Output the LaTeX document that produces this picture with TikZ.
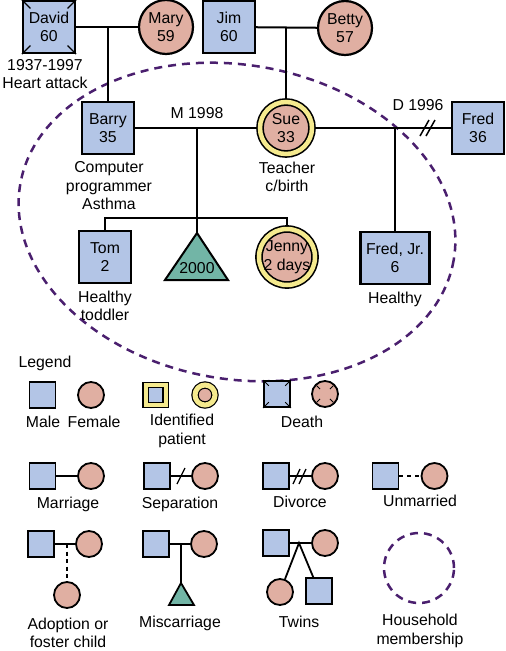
\documentclass[tikz,border=0pt]{standalone}
\usepackage{fontspec}
\setmainfont{Liberation Sans}
\usetikzlibrary{calc}
\definecolor{maleblue}{HTML}{B3C5E6}
\definecolor{femalepink}{HTML}{E0AFA2}
\definecolor{lossteal}{HTML}{72B5A6}
\definecolor{ringyellow}{HTML}{F5EA8E}
\definecolor{homepurple}{HTML}{4A1F6E}
\tikzset{
  male/.style={draw, line width=2.2pt, fill=maleblue, minimum size=52pt, inner sep=0pt, align=center},
  female/.style={draw, circle, line width=2.2pt, fill=femalepink, minimum size=54pt, inner sep=-6pt, align=center},
  patient/.style={female, double=ringyellow, double distance=4.5pt, line width=1.6pt, minimum size=52pt, outer sep=3.9pt},
  lmale/.style={male, minimum size=26pt, line width=1.8pt},
  lfemale/.style={female, minimum size=26pt, line width=1.8pt},
  link/.style={line width=2pt},
  household/.style={homepurple, line width=2.5pt, dash pattern=on 8pt off 6pt},
  txt/.style={align=center, inner sep=0pt},
}

\begin{document}
\begin{tikzpicture}[x=1pt, y=-1pt, font=\fontsize{15.8}{18.5}\selectfont]
  \useasboundingbox (0,0) rectangle (506,651);
  % Household
  \draw[household, rotate around={-10:(237,222)}] (237,222) ellipse [x radius=220, y radius=157];
  % Grandparents
  \node[male] (david) at (49,27) {David\\60};
  \node[female] (mary) at (166,27) {Mary\\59};
  \node[male] (jim) at (229,27) {Jim\\60};
  \node[female] (betty) at (345,28) {Betty\\57};
  \foreach \corner in {north east, north west, south east, south west}
    \draw[line width=1.3pt] (david.\corner) -- ($(david.\corner)!12pt!(david.center)$);
  \node[txt] (davidnote) at (45,74) {1937-1997\\Heart attack};
  % Parents
  \node[male] (barry) at (108,128) {Barry\\35};
  \node[patient] (sue) at (286,128) {Sue\\33};
  \node[male] (fred) at (478,128) {Fred\\36};
  \node[txt] (barrynote) at (109,186) {Computer\\programmer\\Asthma};
  \node[txt] (suenote) at (287,177) {Teacher\\c/birth};
  \node[txt] (marriedyear) at (197,113) {M 1998};
  \node[txt] (divorceyear) at (418,105) {D 1996};
  % Children
  \node[male] (tom) at (105,257) {Tom\\2};
  \node[patient, minimum size=56pt] (jenny) at (287,257) {Jenny\\2 days};
  \node[male, minimum width=69pt] (fredjr) at (395,258) {Fred, Jr.\\6};
  \draw[line width=2pt, fill=lossteal] (197,233) -- (228,280) -- (165,280) -- cycle;
  \coordinate (loss) at (197,233);
  \node[txt] (lossyear) at (197,268) {2000};
  \node[txt] (tomnote) at (105,306) {Healthy\\toddler};
  \node[txt] (fredjrnote) at (395,299) {Healthy};
  % Lines
  \coordinate (dm) at (108,27);
  \coordinate (jb) at (286,27);
  \coordinate (bs) at (197,128);
  \coordinate (sib) at (197,218);
  \coordinate (sf) at (395,128);
  \coordinate (cut) at (429,128);
  \draw[link] (david) -- (mary);
  \draw[link] (jim) -- (betty);
  \draw[link] (dm) -- (barry);
  \draw[link] (jb) -- (sue);
  \draw[link] (barry) -- (sue);
  \draw[link] (sue) -- (fred);
  \draw[link] (bs) -- (loss);
  \draw[link] (tom.north) -- (tom.north |- sib) -- (jenny.north |- sib) -- (jenny.north);
  \draw[link] (sf) -- (fredjr);
  \draw[line width=1.5pt] ($(cut)+(-9,8)$) -- ++(9,-16) ($(cut)+(-3,8)$) -- ++(9,-16);

  % Legend
  \node[txt] (legend) at (45,363) {Legend};
  \node[lmale] (keymale) at (42.5,395) {};
  \node[lfemale] (keyfemale) at (91,395) {};
  \node[txt] (malename) at (43,422) {Male};
  \node[txt] (femalename) at (94,422) {Female};
  \node[lmale, minimum size=20pt, line width=1.3pt, double=ringyellow, double distance=4pt] (keypatm) at (155.5,395) {};
  \node[lfemale, minimum size=20pt, line width=1.2pt, double=ringyellow, double distance=5pt] (keypatf) at (205,395) {};
  \node[txt] (patientname) at (182,431) {Identified\\patient};
  \node[lmale] (keydeadm) at (277,394) {};
  \node[lfemale] (keydeadf) at (325,394) {};
  \foreach \corner in {north east, north west, south east, south west}
    \draw[line width=1pt] (keydeadm.\corner) -- ($(keydeadm.\corner)!8pt!(keydeadm.center)$);
  \foreach \a in {45,135,225,315}
    \draw[line width=1pt] ($(keydeadf.center)+(\a:12)$) -- ($(keydeadf.center)+(\a:7)$);
  \node[txt] (deathname) at (302,422) {Death};

  % Couples
  \node[lmale] (marm) at (42.5,476) {};
  \node[lfemale] (marf) at (91,476) {};
  \draw[link, line width=1.8pt] (marm) -- (marf);
  \node[txt] (marname) at (68,504) {Marriage};
  \node[lmale] (sepm) at (157,476) {};
  \node[lfemale] (sepf) at (205,476) {};
  \draw[link, line width=1.8pt] (sepm) -- (sepf);
  \draw[line width=1.3pt] (177,484) -- (185,468);
  \node[txt] (sepname) at (180,504) {Separation};
  \node[lmale] (divm) at (276,476) {};
  \node[lfemale] (divf) at (325,476) {};
  \draw[link, line width=1.8pt] (divm) -- (divf);
  \draw[line width=1.3pt] (293,484) -- (300,469) (299,484) -- (306,469);
  \node[txt] (divname) at (300,502) {Divorce};
  \node[lmale] (unm) at (385.5,476) {};
  \node[lfemale] (unf) at (434.5,476) {};
  \draw[link, line width=1.8pt, dash pattern=on 4pt off 4pt] (unm) -- (unf);
  \node[txt] (unname) at (420,501) {Unmarried};

  % Children
  \node[lmale] (adm) at (41,544) {};
  \node[lfemale] (adf) at (89,544) {};
  \node[lfemale] (adchild) at (67,595) {};
  \coordinate (adj) at (67,544);
  \draw[link, line width=1.8pt] (adm) -- (adf);
  \draw[link, line width=1.8pt, dash pattern=on 4pt off 3.5pt] (adj) -- (adchild);
  \node[txt] (adname) at (68,633) {Adoption or\\foster child};
  \node[lmale] (mism) at (156,544) {};
  \node[lfemale] (misf) at (204,544) {};
  \coordinate (misj) at (181,544);
  \coordinate (mistri) at (181,583);
  \draw[link, line width=1.8pt] (mism) -- (misf);
  \draw[link, line width=1.8pt] (misj) -- (mistri);
  \draw[line width=1.8pt, fill=lossteal] (mistri) -- (194,605) -- (169,605) -- cycle;
  \node[txt] (misname) at (180,623) {Miscarriage};
  \node[lmale] (twm) at (276,543) {};
  \node[lfemale] (twf) at (325,543) {};
  \node[lfemale] (twinf) at (280,592) {};
  \node[lmale] (twinm) at (319,591) {};
  \coordinate (twj) at (299,543);
  \draw[link, line width=1.8pt] (twm) -- (twf);
  \draw[link, line width=1.8pt] (twinf) -- (twj) -- (twinm);
  \node[txt] (twname) at (299,622) {Twins};
  \node[draw, circle, household, minimum size=70pt] (homekey) at (419,568) {};
  \node[txt] (homename) at (420,631) {Household\\membership};
\end{tikzpicture}
\end{document}
